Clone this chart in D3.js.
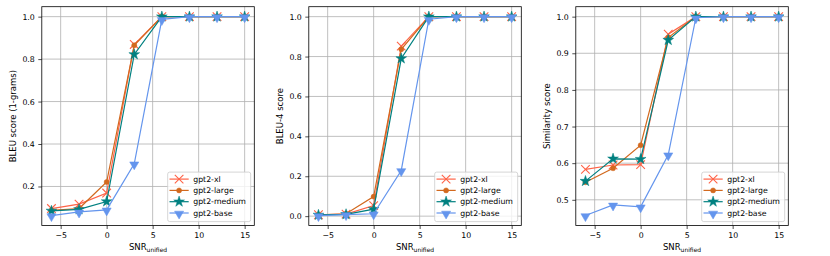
<!DOCTYPE html>
<html><head><meta charset="utf-8">
<script src="https://cdn.jsdelivr.net/npm/d3@7"></script>
<style>
html,body{margin:0;padding:0;background:#fff;}
svg{display:block;font-family:"DejaVu Sans",sans-serif;}
</style></head><body>
<svg id="chart" width="830" height="256"></svg>
<script>
const snr = [-6, -3, 0, 3, 6, 9, 12, 15];
const xTicks = [-5, 0, 5, 10, 15];
const seriesNames = ["gpt2-xl", "gpt2-large", "gpt2-medium", "gpt2-base"];
const seriesColors = ["#ff6347", "#d2691e", "#008080", "#6495ed"];
const seriesMarkers = ["x", "circle", "star", "triangleDown"];

const bleu1Xl     = [0.096, 0.117, 0.169, 0.869, 1, 1, 1, 1];
const bleu1Large  = [0.088, 0.096, 0.221, 0.865, 1, 1, 1, 1];
const bleu1Medium = [0.085, 0.092, 0.129, 0.822, 1, 1, 1, 1];
const bleu1Base   = [0.063, 0.080, 0.090, 0.307, 0.987, 1, 1, 1];
const bleu1Ticks  = [0.2, 0.4, 0.6, 0.8, 1.0];

const bleu4Xl     = [0.007, 0.010, 0.053, 0.852, 1, 1, 1, 1];
const bleu4Large  = [0.006, 0.012, 0.098, 0.836, 1, 1, 1, 1];
const bleu4Medium = [0.006, 0.009, 0.035, 0.790, 1, 1, 1, 1];
const bleu4Base   = [0.003, 0.008, 0.012, 0.229, 0.987, 1, 1, 1];
const bleu4Ticks  = [0.0, 0.2, 0.4, 0.6, 0.8, 1.0];

const simXl     = [0.583, 0.595, 0.596, 0.952, 1, 1, 1, 1];
const simLarge  = [0.548, 0.586, 0.649, 0.943, 1, 1, 1, 1];
const simMedium = [0.551, 0.612, 0.611, 0.936, 1, 1, 1, 1];
const simBase   = [0.457, 0.486, 0.481, 0.623, 0.997, 1, 1, 1];
const simTicks  = [0.5, 0.6, 0.7, 0.8, 0.9, 1.0];

const panels = [
  {left: 41.8, ylabel: "BLEU score (1-grams)", series: [bleu1Xl, bleu1Large, bleu1Medium, bleu1Base], ticks: bleu1Ticks},
  {left: 308.8, ylabel: "BLEU-4 score", series: [bleu4Xl, bleu4Large, bleu4Medium, bleu4Base], ticks: bleu4Ticks},
  {left: 575.8, ylabel: "Similarity score", series: [simXl, simLarge, simMedium, simBase], ticks: simTicks}
];

const W = 212.5, topY = 6.7, bottomY = 225.5;
const FS = 7.8, LFS = 8.5;
const svg = d3.select("#chart");

function markerPath(type) {
  if (type === "x") { const r = 4.3; return `M${-r},${-r}L${r},${r}M${-r},${r}L${r},${-r}`; }
  if (type === "circle") return d3.symbol(d3.symbolCircle, 20)();
  if (type === "star") return d3.symbol(d3.symbolStar, 36)();
  if (type === "triangleDown") return d3.symbol(d3.symbolTriangle, 36)();
}
function drawMarker(g, type, color, x, y) {
  const p = g.append("path").attr("d", markerPath(type));
  if (type === "x") {
    p.attr("fill", "none").attr("stroke", color).attr("stroke-width", 1.1)
     .attr("transform", `translate(${x},${y})`);
  } else if (type === "triangleDown") {
    p.attr("fill", color).attr("stroke", color).attr("stroke-width", 0.5)
     .attr("transform", `translate(${x},${y + 0.8}) rotate(180)`);
  } else {
    p.attr("fill", color).attr("stroke", color).attr("stroke-width", 0.5)
     .attr("transform", `translate(${x},${y})`);
  }
}

panels.forEach(pn => {
  const all = pn.series.flat();
  const mn = d3.min(all), mx = d3.max(all), m = (mx - mn) * 0.05;
  const x = d3.scaleLinear().domain([-6 - 1.05, 15 + 1.05]).range([pn.left, pn.left + W]);
  const y = d3.scaleLinear().domain([mn - m, mx + m]).range([bottomY, topY]);
  const g = svg.append("g");

  // grid
  g.append("g").selectAll("line").data(xTicks).join("line")
    .attr("x1", d => x(d)).attr("x2", d => x(d)).attr("y1", topY).attr("y2", bottomY)
    .attr("stroke", "#b0b0b0").attr("stroke-width", 0.8);
  g.append("g").selectAll("line").data(pn.ticks).join("line")
    .attr("y1", d => y(d)).attr("y2", d => y(d)).attr("x1", pn.left).attr("x2", pn.left + W)
    .attr("stroke", "#b0b0b0").attr("stroke-width", 0.8);

  // axes
  const xa = g.append("g").attr("transform", `translate(0,${bottomY})`)
    .call(d3.axisBottom(x).tickValues(xTicks).tickSize(3.5).tickPadding(3).tickFormat(d => d < 0 ? "\u2212" + Math.abs(d) : d));
  const ya = g.append("g").attr("transform", `translate(${pn.left},0)`)
    .call(d3.axisLeft(y).tickValues(pn.ticks).tickSize(3.5).tickPadding(3.5).tickFormat(d3.format(".1f")));
  [xa, ya].forEach(a => {
    a.select(".domain").remove();
    a.selectAll("line").attr("stroke", "#000").attr("stroke-width", 0.7);
    a.selectAll("text").attr("font-size", FS).attr("font-family", "DejaVu Sans").attr("fill", "#000");
  });

  // lines & markers
  pn.series.forEach((vals, i) => {
    const pts = snr.map((s, j) => [x(s), y(vals[j])]);
    g.append("path").attr("d", d3.line()(pts)).attr("fill", "none")
      .attr("stroke", seriesColors[i]).attr("stroke-width", 1.2);
    pts.forEach(p => drawMarker(g, seriesMarkers[i], seriesColors[i], p[0], p[1]));
  });

  // frame
  g.append("rect").attr("x", pn.left).attr("y", topY).attr("width", W).attr("height", bottomY - topY)
    .attr("fill", "none").attr("stroke", "#000").attr("stroke-width", 0.8);

  // labels
  g.append("text").attr("transform", `translate(${pn.left - 28},${(topY + bottomY) / 2}) rotate(-90)`)
    .attr("text-anchor", "middle").attr("dominant-baseline", "middle").attr("font-size", LFS).text(pn.ylabel);
  const xl = g.append("text").attr("x", pn.left + W / 2).attr("y", 250).attr("text-anchor", "middle").attr("font-size", LFS);
  xl.append("tspan").text("SNR");
  xl.append("tspan").attr("font-size", 6).attr("dy", 1.8).text("unified");

  // legend
  const lw = 83, lh = 49.5;
  const lx = pn.left + W - 3.6 - lw, ly = bottomY - 3.9 - lh;
  const lg = g.append("g");
  lg.append("rect").attr("x", lx).attr("y", ly).attr("width", lw).attr("height", lh).attr("rx", 2)
    .attr("fill", "#fff").attr("fill-opacity", 0.8).attr("stroke", "#cccccc").attr("stroke-width", 0.8);
  seriesNames.forEach((nm, i) => {
    const yy = ly + 7 + i * 11.3;
    lg.append("line").attr("x1", lx + 1.8).attr("x2", lx + 21).attr("y1", yy).attr("y2", yy)
      .attr("stroke", seriesColors[i]).attr("stroke-width", 1.2);
    drawMarker(lg, seriesMarkers[i], seriesColors[i], lx + 11.4, yy);
    lg.append("text").attr("x", lx + 25.5).attr("y", yy).attr("dominant-baseline", "central")
      .attr("font-size", FS).text(nm);
  });
});
</script>
</body></html>
